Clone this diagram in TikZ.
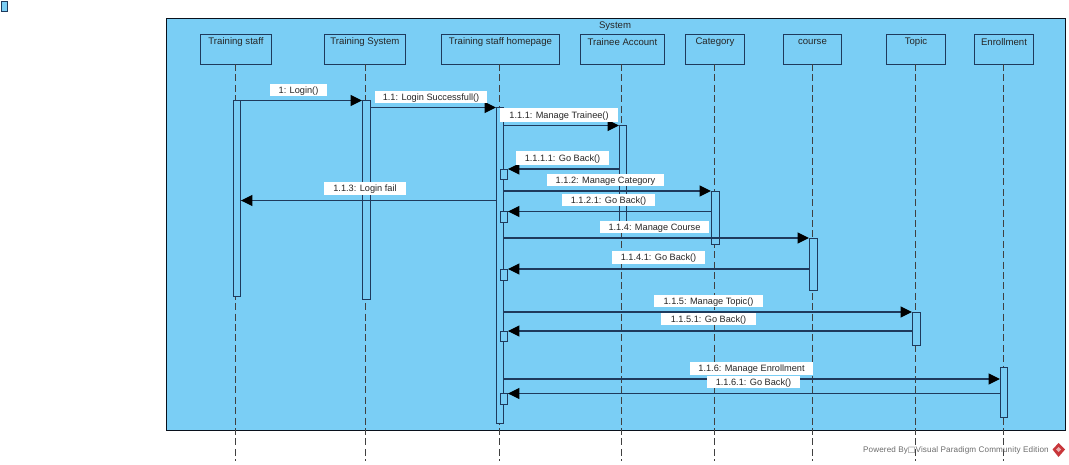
\documentclass[tikz,border=0pt]{standalone}
\usepackage{fontspec}
\setmainfont{Liberation Sans}
\newfontfamily\symfont{DejaVu Sans}
\definecolor{skyfill}{HTML}{7ACEF5}
\definecolor{inkline}{HTML}{1F3A5C}
\definecolor{vpred}{HTML}{C8363A}
\usetikzlibrary{arrows.meta,calc}
\tikzset{
  x=0.75pt,y=-0.75pt,
  headbox/.style={draw=inkline,line width=0.7pt,fill=skyfill,inner sep=0pt,anchor=north west},
  headtext/.style={font=\fontsize{7.2}{8}\selectfont,text=black!85,inner sep=0pt},
  lifeline/.style={draw=black!75,line width=0.7pt,dash pattern=on 5.2pt off 2.6pt},
  actbar/.style={draw=inkline,line width=0.7pt,fill=skyfill,inner sep=0pt,anchor=north west},
  msg/.style={draw=inkline,line width=0.85pt,-{Triangle[length=8.6pt,width=8.2pt,color=black]}},
  msglabel/.style={fill=white,inner sep=0pt,font=\fontsize{6.9}{8}\selectfont,text=black!85,align=center},
}
\newcommand{\headbox}[6]{% name, x0, y0, w, h, text
  \node[headbox,minimum width=#4*0.75pt,minimum height=#5*0.75pt] (#1) at (#2,#3) {};
  \node[headtext] (#1t) at ($(#1.north)+(0,7.8)$) {#6};}
\newcommand{\actbar}[5]{% name, x0, y0, w, h
  \node[actbar,minimum width=#4*0.75pt,minimum height=#5*0.75pt] (#1) at (#2,#3) {};}
\newcommand{\msglabel}[6]{% name, x0, x1, y0, y1, text
  \node[msglabel,minimum width=(#3-#2)*0.75pt,minimum height=(#5-#4)*0.75pt,text depth=0pt,text height=5pt] (#1) at ({(#2+#3)/2},{(#4+#5)/2}) {#6};}
\begin{document}
\begin{tikzpicture}
\useasboundingbox (0,0) rectangle (1069,464);
% corner icon
\node[headbox,minimum width=5.2pt,minimum height=7.5pt,line width=0.6pt] (icon) at (0.5,0.5) {};
% system frame
\node[headbox,draw=black!70!inkline,line width=0.8pt,minimum width=899*0.75pt,minimum height=412*0.75pt] (frame) at (166,18) {};
\node[headtext] (frametitle) at (615,26.5) {System};
% lifeline heads
\headbox{ts}{200}{34}{71}{30}{Training staff}
\headbox{sys}{324}{34}{81}{30}{Training System}
\headbox{home}{441}{34}{118}{30}{Training staff homepage}
\headbox{acc}{580}{34}{84}{30}{Trainee Account}
\headbox{cat}{685}{34}{59}{30}{Category}
\headbox{crs}{783}{34}{58}{30}{course}
\headbox{top}{886}{34}{59}{30}{Topic}
\headbox{enr}{974}{34}{59}{30}{Enrollment}
% lifeline ends
\foreach \n/\xx in {ts/235.5,sys/365.5,home/499.5,acc/621,cat/714,crs/812,top/915,enr/1003}{
  \coordinate (\n end) at (\xx,461);
  \draw[lifeline] (\xx,64) -- (\n end);
}
% activation bars
\actbar{ats}{233}{100}{7}{196}
\actbar{asys}{362}{100}{8}{199}
\actbar{ahome}{496}{107}{7}{316}
\actbar{aacc}{619}{125}{7}{103}
\actbar{acat}{711}{191}{8}{53}
\actbar{acrs}{809}{238}{8}{52}
\actbar{atop}{912}{312}{8}{33}
\actbar{aenr}{1000}{367}{7}{50}
% return boxes
\actbar{r1}{500}{169}{7}{10}
\actbar{r2}{500}{211}{7}{11}
\actbar{r3}{500}{269}{7}{11}
\actbar{r4}{500}{331}{7}{10}
\actbar{r5}{500}{393}{7}{11}
% messages
\draw[msg] (ats.east |- 0,100.5) -- (asys.west |- 0,100.5);
\draw[msg] (asys.east |- 0,107.5) -- (ahome.west |- 0,107.5);
\draw[msg] (ahome.east |- 0,125.5) -- (aacc.west |- 0,125.5);
\draw[msg] (aacc.west |- 0,169) -- (r1.north east |- 0,169);
\draw[msg] (ahome.east |- 0,191) -- (acat.west |- 0,191);
\draw[msg] (ahome.west |- 0,200.5) -- (ats.east |- 0,200.5);
\draw[msg] (acat.west |- 0,211.5) -- (r2.north east |- 0,211.5);
\draw[msg] (ahome.east |- 0,238) -- (acrs.west |- 0,238);
\draw[msg] (acrs.west |- 0,269) -- (r3.north east |- 0,269);
\draw[msg] (ahome.east |- 0,312) -- (atop.west |- 0,312);
\draw[msg] (atop.west |- 0,331) -- (r4.north east |- 0,331);
\draw[msg] (ahome.east |- 0,379) -- (aenr.west |- 0,379);
\draw[msg] (aenr.west |- 0,393.5) -- (r5.north east |- 0,393.5);
% labels
\msglabel{l1}{270}{327}{84}{96}{1: Login()}
\msglabel{l2}{375}{487}{91}{103}{1.1: Login Successfull()}
\msglabel{l3}{500}{618}{108}{122}{1.1.1: Manage Trainee()}
\msglabel{l4}{516}{609}{151}{165}{1.1.1.1: Go Back()}
\msglabel{l5}{547}{664}{174}{186}{1.1.2: Manage Category}
\msglabel{l6}{324}{406}{182}{195}{1.1.3: Login fail}
\msglabel{l7}{562}{655}{194}{206}{1.1.2.1: Go Back()}
\msglabel{l8}{600}{709}{221}{233}{1.1.4: Manage Course}
\msglabel{l9}{612}{705}{251}{264}{1.1.4.1: Go Back()}
\msglabel{l10}{654}{763}{295}{307}{1.1.5: Manage Topic()}
\msglabel{l11}{661}{756}{313}{325}{1.1.5.1: Go Back()}
\msglabel{l12}{690}{813}{362}{375}{1.1.6: Manage Enrollment}
\msglabel{l13}{707}{800}{376}{388}{1.1.6.1: Go Back()}
% footer
\node[inner sep=0pt,anchor=east,font=\fontsize{6.1}{7}\selectfont,text=black!58] (powered) at (1049,450.5) {\addfontfeature{LetterSpace=1.5}Powered By{\symfont □}Visual Paradigm Community Edition};
\fill[vpred] (1058.5,443) -- (1065,449.5) -- (1058.5,457) -- (1052.5,449.5) -- cycle;
\fill[white!60!vpred] (1058.5,447) -- (1061,449.5) -- (1058.5,452) -- (1056,449.5) -- cycle;
\end{tikzpicture}
\end{document}
